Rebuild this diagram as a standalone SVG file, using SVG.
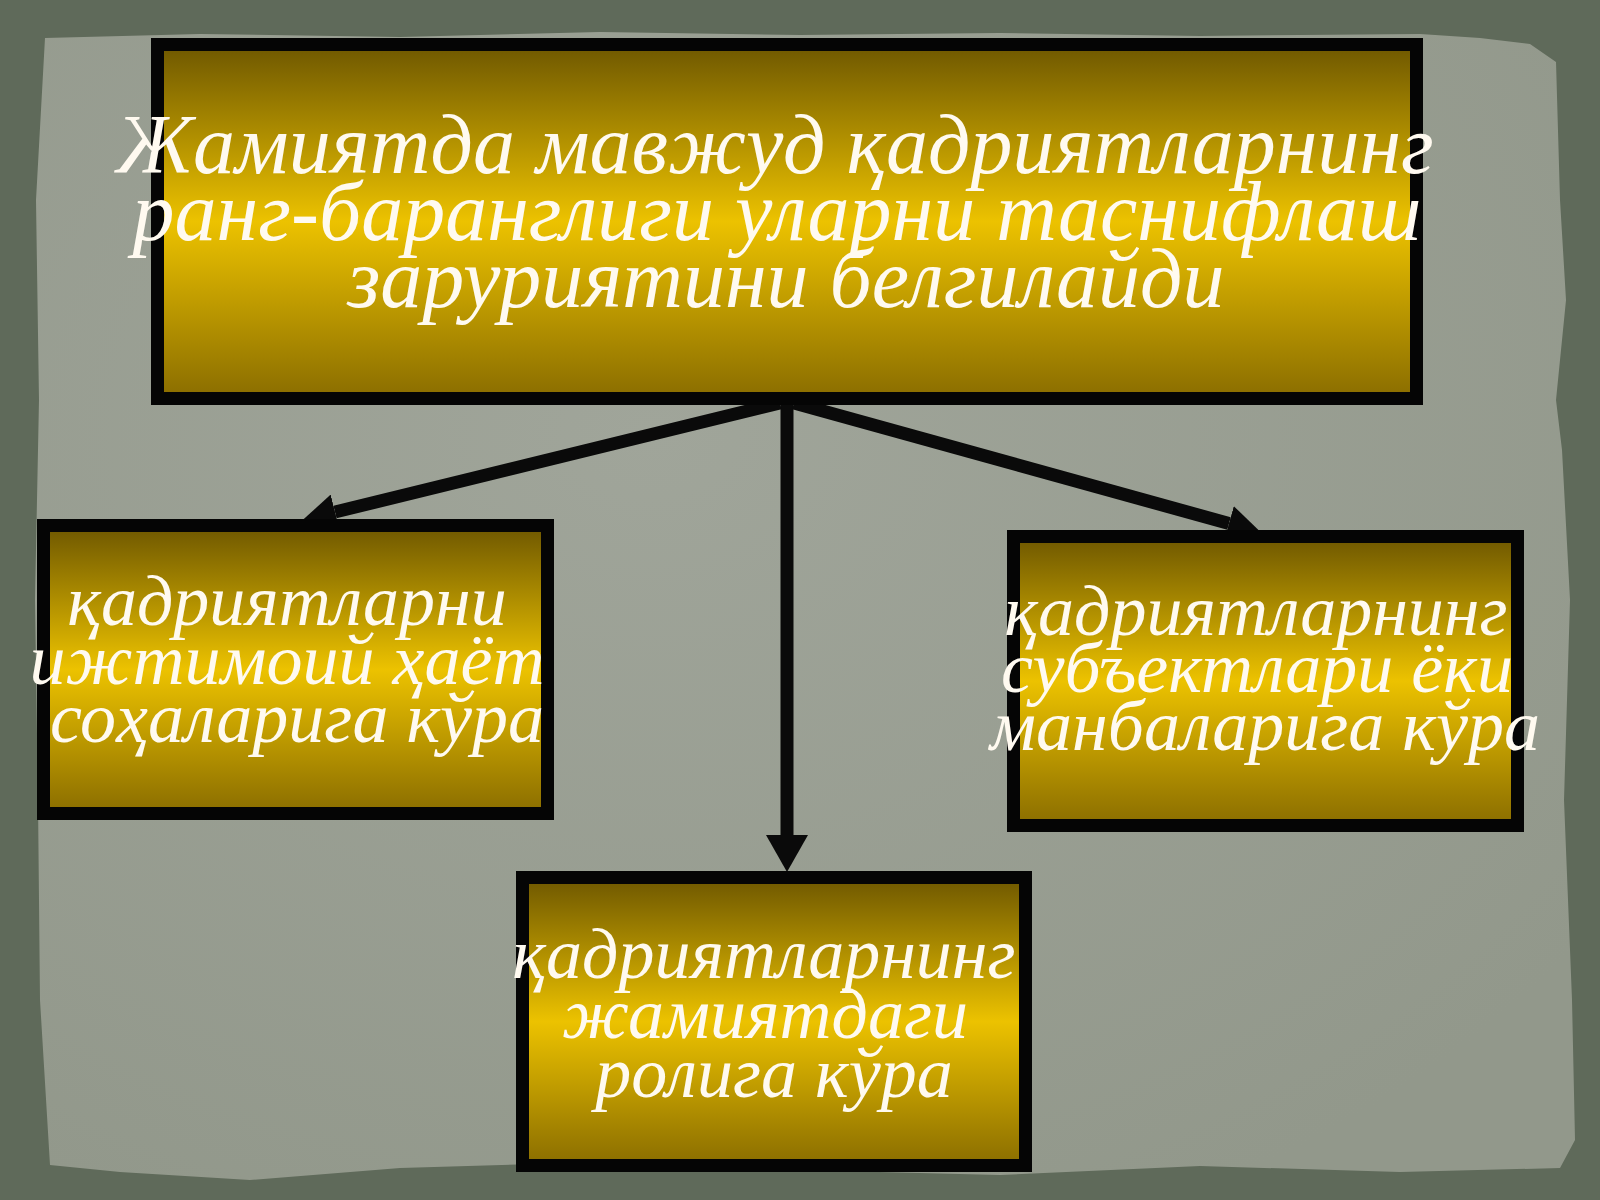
<svg xmlns="http://www.w3.org/2000/svg" width="1600" height="1200" viewBox="0 0 1600 1200">
  <defs>
    <linearGradient id="gold" x1="0" y1="0" x2="0" y2="1">
      <stop offset="0" stop-color="#6e5700"/>
      <stop offset="0.5" stop-color="#ecc200"/>
      <stop offset="1" stop-color="#8a6d00"/>
    </linearGradient>
    <radialGradient id="paperG" cx="0.4" cy="0.35" r="0.75">
      <stop offset="0" stop-color="#a0a59a"/>
      <stop offset="1" stop-color="#92988b"/>
    </radialGradient>
    <marker id="ah" markerUnits="userSpaceOnUse" markerWidth="38" markerHeight="42" viewBox="0 0 38 42" refX="0" refY="21" orient="auto">
      <path d="M0 0 L37 21 L0 42 Z" fill="#0a0a0a"/>
    </marker>
    <marker id="ahs" markerUnits="userSpaceOnUse" markerWidth="34" markerHeight="36" viewBox="0 0 34 36" refX="0" refY="18" orient="auto">
      <path d="M0 0 L33 18 L0 36 Z" fill="#0a0a0a"/>
    </marker>
  </defs>
  <style>
    .box { fill: url(#gold); stroke: #050505; stroke-width: 13; }
    .t { font-family: "Liberation Serif", "DejaVu Serif", serif; font-style: italic; fill: #fffaf0; text-anchor: middle; }
    .big { font-size: 84px; }
    .small { font-size: 72px; }
    .conn { stroke: #0a0a0a; stroke-width: 13; fill: none; }
  </style>
  <rect x="0" y="0" width="1600" height="1200" fill="#5f6a5a"/>
  <path id="paper" d="M 45 38 L 200 34 L 400 37 L 600 32 L 800 35 L 1000 33 L 1200 36 L 1420 34 L 1480 38 L 1530 44 L 1556 62 L 1560 200 L 1566 300 L 1556 400 L 1562 450 L 1570 600 L 1564 800 L 1572 1000 L 1575 1140 L 1560 1168 L 1400 1172 L 1200 1166 L 1000 1175 L 800 1170 L 600 1162 L 400 1168 L 250 1180 L 120 1172 L 50 1165 L 40 1000 L 38 800 L 35 600 L 39 400 L 36 200 Z" fill="url(#paperG)"/>

  <g id="connectors">
    <line class="conn" x1="787" y1="403" x2="787" y2="835" marker-end="url(#ah)"/>
    <line class="conn" x1="780" y1="403" x2="335" y2="512" marker-end="url(#ahs)"/>
    <line class="conn" x1="794" y1="403" x2="1229" y2="523.5" marker-end="url(#ahs)"/>
  </g>

  <g id="node-top">
    <rect class="box" x="157.5" y="44.5" width="1259" height="354"/>
    <text class="t big" x="775" y="173">Жамиятда мавжуд қадриятларнинг</text>
    <text class="t big" x="777" y="240">ранг-баранглиги уларни таснифлаш</text>
    <text class="t big" x="786" y="307">заруриятини белгилайди</text>
  </g>

  <g id="node-left">
    <rect class="box" x="43.5" y="525.5" width="504" height="288"/>
    <text class="t small" x="287" y="625">қадриятларни</text>
    <text class="t small" x="287" y="684">ижтимоий ҳаёт</text>
    <text class="t small" x="297" y="742">соҳаларига кўра</text>
  </g>

  <g id="node-right">
    <rect class="box" x="1013.5" y="536.5" width="504" height="289"/>
    <text class="t small" x="1256" y="635">қадриятларнинг</text>
    <text class="t small" x="1257" y="692">субъектлари ёки</text>
    <text class="t small" x="1265" y="750">манбаларига кўра</text>
  </g>

  <g id="node-bottom">
    <rect class="box" x="522.5" y="877.5" width="503" height="288"/>
    <text class="t small" x="764" y="978">қадриятларнинг</text>
    <text class="t small" x="765" y="1038">жамиятдаги</text>
    <text class="t small" x="774" y="1097">ролига кўра</text>
  </g>
</svg>
